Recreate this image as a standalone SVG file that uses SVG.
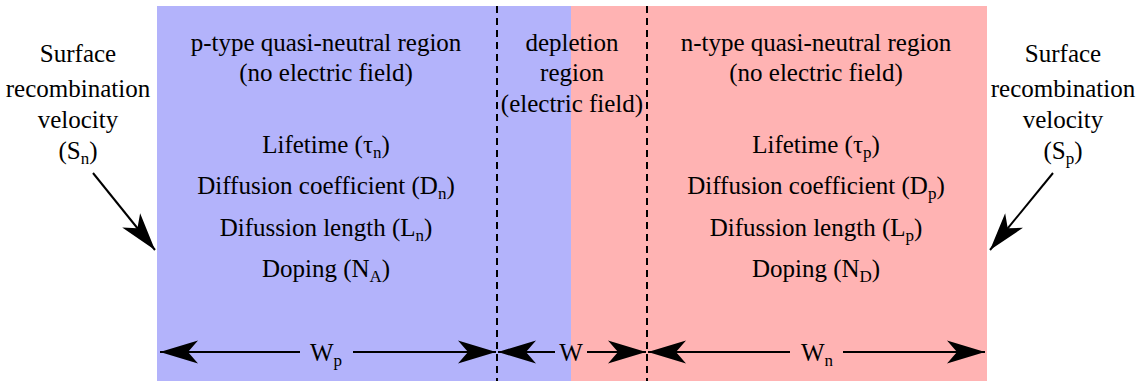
<svg xmlns="http://www.w3.org/2000/svg" width="1141" height="381" viewBox="0 0 1141 381">
<defs>
<style>
text{font-family:"Liberation Serif","Times New Roman",serif;font-size:25px;fill:#000;text-anchor:middle}
.sub{font-size:17px}
.ln{stroke:#000;stroke-width:2;fill:none}
.dash{stroke:#000;stroke-width:2;stroke-dasharray:7,5;fill:none}
</style>
<marker id="ah" markerUnits="userSpaceOnUse" markerWidth="42" markerHeight="26" viewBox="-40 -13 42 26" refX="0" refY="0" orient="auto-start-reverse">
<path d="M0,0 L-38,-11.5 L-28,0 L-38,11.5 Z" fill="#000"/>
</marker>
</defs>
<g id="p-region">
<rect x="157" y="6" width="414" height="375" fill="#b3b3fb"/>
<text x="326" y="51">p-type quasi-neutral region</text>
<text x="326" y="81">(no electric field)</text>
<text x="326" y="153">Lifetime (τ<tspan class="sub" dy="5">n</tspan><tspan dy="-5">)</tspan></text>
<text x="326" y="194">Diffusion coefficient (D<tspan class="sub" dy="5">n</tspan><tspan dy="-5">)</tspan></text>
<text x="326" y="236">Difussion length (L<tspan class="sub" dy="5">n</tspan><tspan dy="-5">)</tspan></text>
<text x="326" y="277">Doping (N<tspan class="sub" dy="5">A</tspan><tspan dy="-5">)</tspan></text>
</g>
<g id="n-region">
<rect x="571" y="6" width="416" height="375" fill="#ffb3b3"/>
<text x="816" y="51">n-type quasi-neutral region</text>
<text x="816" y="81">(no electric field)</text>
<text x="816" y="153">Lifetime (τ<tspan class="sub" dy="5">p</tspan><tspan dy="-5">)</tspan></text>
<text x="816" y="194">Diffusion coefficient (D<tspan class="sub" dy="5">p</tspan><tspan dy="-5">)</tspan></text>
<text x="816" y="236">Difussion length (L<tspan class="sub" dy="5">p</tspan><tspan dy="-5">)</tspan></text>
<text x="816" y="277">Doping (N<tspan class="sub" dy="5">D</tspan><tspan dy="-5">)</tspan></text>
</g>
<g id="depletion">
<text x="572" y="51">depletion</text>
<text x="572" y="81">region</text>
<text x="572" y="112">(electric field)</text>
</g>
<g id="left-surface">
<text x="78" y="62">Surface</text>
<text x="78" y="97">recombination</text>
<text x="78" y="128">velocity</text>
<text x="78" y="159">(S<tspan class="sub" dy="5">n</tspan><tspan dy="-5">)</tspan></text>
</g>
<g id="right-surface">
<text x="1063" y="62">Surface</text>
<text x="1063" y="97">recombination</text>
<text x="1063" y="128">velocity</text>
<text x="1063" y="159">(S<tspan class="sub" dy="5">p</tspan><tspan dy="-5">)</tspan></text>
</g>
<g id="dim-labels">
<text x="326" y="361">W<tspan class="sub" dy="5">p</tspan></text>
<text x="571" y="361">W</text>
<text x="817" y="361">W<tspan class="sub" dy="5">n</tspan></text>
</g>
<g id="connectors">
<line class="dash" x1="497" y1="6" x2="497" y2="381"/>
<line class="dash" x1="647" y1="6" x2="647" y2="381"/>
<line class="ln" x1="93" y1="173" x2="155" y2="250" marker-end="url(#ah)"/>
<line class="ln" x1="1053" y1="173" x2="990" y2="250" marker-end="url(#ah)"/>
<line class="ln" x1="160" y1="352" x2="300" y2="352" marker-start="url(#ah)"/>
<line class="ln" x1="353" y1="352" x2="496" y2="352" marker-end="url(#ah)"/>
<line class="ln" x1="498" y1="352" x2="555" y2="352" marker-start="url(#ah)"/>
<line class="ln" x1="587" y1="352" x2="646" y2="352" marker-end="url(#ah)"/>
<line class="ln" x1="648" y1="352" x2="790" y2="352" marker-start="url(#ah)"/>
<line class="ln" x1="843" y1="352" x2="985" y2="352" marker-end="url(#ah)"/>
</g>
</svg>
